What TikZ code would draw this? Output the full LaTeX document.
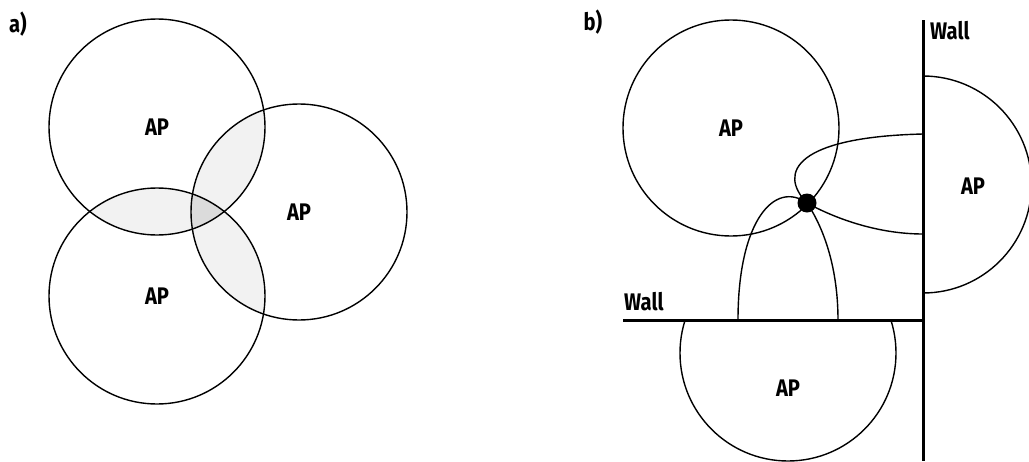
\documentclass[tikz,border=0pt]{standalone}
\usepackage{fontspec}
\setmainfont{Fira Sans}[FakeStretch=0.84]
\begin{document}
\begin{tikzpicture}[x=1pt,y=-1pt,
  lbl/.style={font=\bfseries\fontsize{24}{24}\selectfont, inner sep=0pt},
  apc/.style={circle, draw, line width=1.4pt, minimum size=216pt, inner sep=0pt,
              font=\bfseries\fontsize{24}{24}\selectfont},
  line/.style={line width=1.4pt},
  wall/.style={line width=3pt},
  pairfill/.style={fill=black!5},
  triplefill/.style={fill=black!14},
  dotn/.style={circle, fill=black, minimum size=19pt, inner sep=0pt}
]
\useasboundingbox (0,0) rectangle (1029,461);
\fill[white] (0,0) rectangle (1029,461);

% ---------- panel a ----------
\coordinate (ca) at (157,127);
\coordinate (cb) at (299,212);
\coordinate (cc) at (157,296);
\begin{scope}\clip (ca) circle (108); \fill[pairfill] (cb) circle (108); \fill[pairfill] (cc) circle (108);\end{scope}
\begin{scope}\clip (cb) circle (108); \fill[pairfill] (cc) circle (108);\end{scope}
\begin{scope}\clip (ca) circle (108); \clip (cb) circle (108); \fill[triplefill] (cc) circle (108);\end{scope}
\node[apc] (a1) at (ca) {AP};
\node[apc] (a2) at (cb) {AP};
\node[apc] (a3) at (cc) {AP};
\node[lbl] (la) at (18,24) {a)};

% ---------- panel b ----------
\node[lbl] (lb) at (593,22) {b)};
\node[apc] (b1) at (731,128) {AP};
% right semicircle
\begin{scope}\clip (923,0) rectangle (1029,461);
  \draw[line] (923,184.5) circle (108.5);
\end{scope}
\node[lbl] (b2) at (973,186) {AP};
% bottom segment
\begin{scope}\clip (600,320) rectangle (923,461);
  \draw[line] (788,353) circle (108);
\end{scope}
\node[lbl] (b3) at (788,388) {AP};

% walls
\coordinate (vt) at (923,20);
\coordinate (vb) at (923,461);
\coordinate (hl) at (623,320);
\coordinate (hr) at (923,320);
\draw[wall] (vt) -- (vb);
\draw[wall] (hl) -- (hr);
\node[lbl, anchor=west] (wt) at (930,31) {Wall};
\node[lbl, anchor=west] (wl) at (624,302) {Wall};

% reflection lobes
\node[dotn] (dot) at (807,203) {};
\coordinate (w1) at (923,134);
\coordinate (w2) at (923,234);
\coordinate (f1) at (738,320);
\coordinate (f2) at (838,320);
\draw[line] (dot.center) .. controls (777,172) and (797,137) .. (w1);
\draw[line] (dot.center) .. controls (838,220) and (880,234) .. (w2);
\draw[line] (dot.center) .. controls (775,180) and (738,220) .. (f1);
\draw[line] (dot.center) .. controls (825,230) and (838,270) .. (f2);
\end{tikzpicture}
\end{document}
